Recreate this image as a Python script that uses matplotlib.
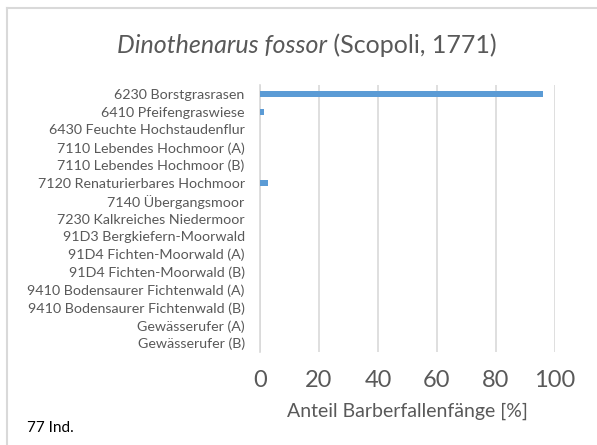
import matplotlib
matplotlib.use('Agg')
import matplotlib.pyplot as plt
from matplotlib.lines import Line2D

plt.rcParams['font.family'] = ['Lato', 'DejaVu Sans']

habitats = [
    '6230 Borstgrasrasen',
    '6410 Pfeifengraswiese',
    '6430 Feuchte Hochstaudenflur',
    '7110 Lebendes Hochmoor (A)',
    '7110 Lebendes Hochmoor (B)',
    '7120 Renaturierbares Hochmoor',
    '7140 Übergangsmoor',
    '7230 Kalkreiches Niedermoor',
    '91D3 Bergkiefern-Moorwald',
    '91D4 Fichten-Moorwald (A)',
    '91D4 Fichten-Moorwald (B)',
    '9410 Bodensaurer Fichtenwald (A)',
    '9410 Bodensaurer Fichtenwald (B)',
    'Gewässerufer (A)',
    'Gewässerufer (B)',
]
anteil = [96.1, 1.3, 0, 0, 0, 2.6, 0, 0, 0, 0, 0, 0, 0, 0, 0]
xticks = [0, 20, 40, 60, 80, 100]
n_ind = '77 Ind.'

text_col = '#595959'
grid_col = '#d9d9d9'
bar_col = '#5b9bd5'

fig = plt.figure(figsize=(5.97, 4.45), dpi=100)
ax = fig.add_axes([260 / 597, 1 - 352 / 445, 295 / 597, 267 / 445])

ypos = list(range(len(habitats)))
ax.barh(ypos, anteil, height=0.35, color=bar_col, zorder=3)
ax.set_ylim(len(habitats) - 0.5, -0.5)
ax.set_xlim(0, 100)
ax.set_yticks(ypos)
ax.set_yticklabels(habitats, fontsize=10.3, color=text_col)
ax.set_xticks(xticks)
ax.set_xticklabels([str(t) for t in xticks], fontsize=17, color=text_col)
ax.tick_params(axis='both', length=0)
ax.tick_params(axis='x', pad=13)
ax.tick_params(axis='y', pad=11)
ax.xaxis.grid(True, color=grid_col, linewidth=1.2, zorder=0)
for s in ['top', 'right', 'bottom']:
    ax.spines[s].set_visible(False)
ax.spines['left'].set_color(grid_col)
ax.spines['left'].set_linewidth(1.2)
ax.set_xlabel('Anteil Barberfallenfänge [%]', fontsize=14, color=text_col, labelpad=8)

# title: italic species name + regular author, centred together
t1 = fig.text(0, 1 - 45 / 445, 'Dinothenarus fossor', fontsize=18, style='italic',
              color=text_col, ha='left', va='center')
t2 = fig.text(0, 1 - 45 / 445, ' (Scopoli, 1771)', fontsize=18,
              color=text_col, ha='left', va='center')
r = fig.canvas.get_renderer()
w1 = t1.get_window_extent(r).width
w2 = t2.get_window_extent(r).width
x0 = 307 - (w1 + w2) / 2
t1.set_x(x0 / 597)
t2.set_x((x0 + w1) / 597)

fig.text(27 / 597, 1 - 428 / 445, n_ind, fontsize=11, color='black', ha='left', va='center')

# chart frame
fig.add_artist(Line2D([7 / 597, 1], [1 - 8 / 445, 1 - 8 / 445], color=grid_col, lw=1.5))
fig.add_artist(Line2D([7 / 597, 7 / 597], [0, 1 - 8 / 445], color=grid_col, lw=1.5))

fig.savefig('out.png', dpi=100)
